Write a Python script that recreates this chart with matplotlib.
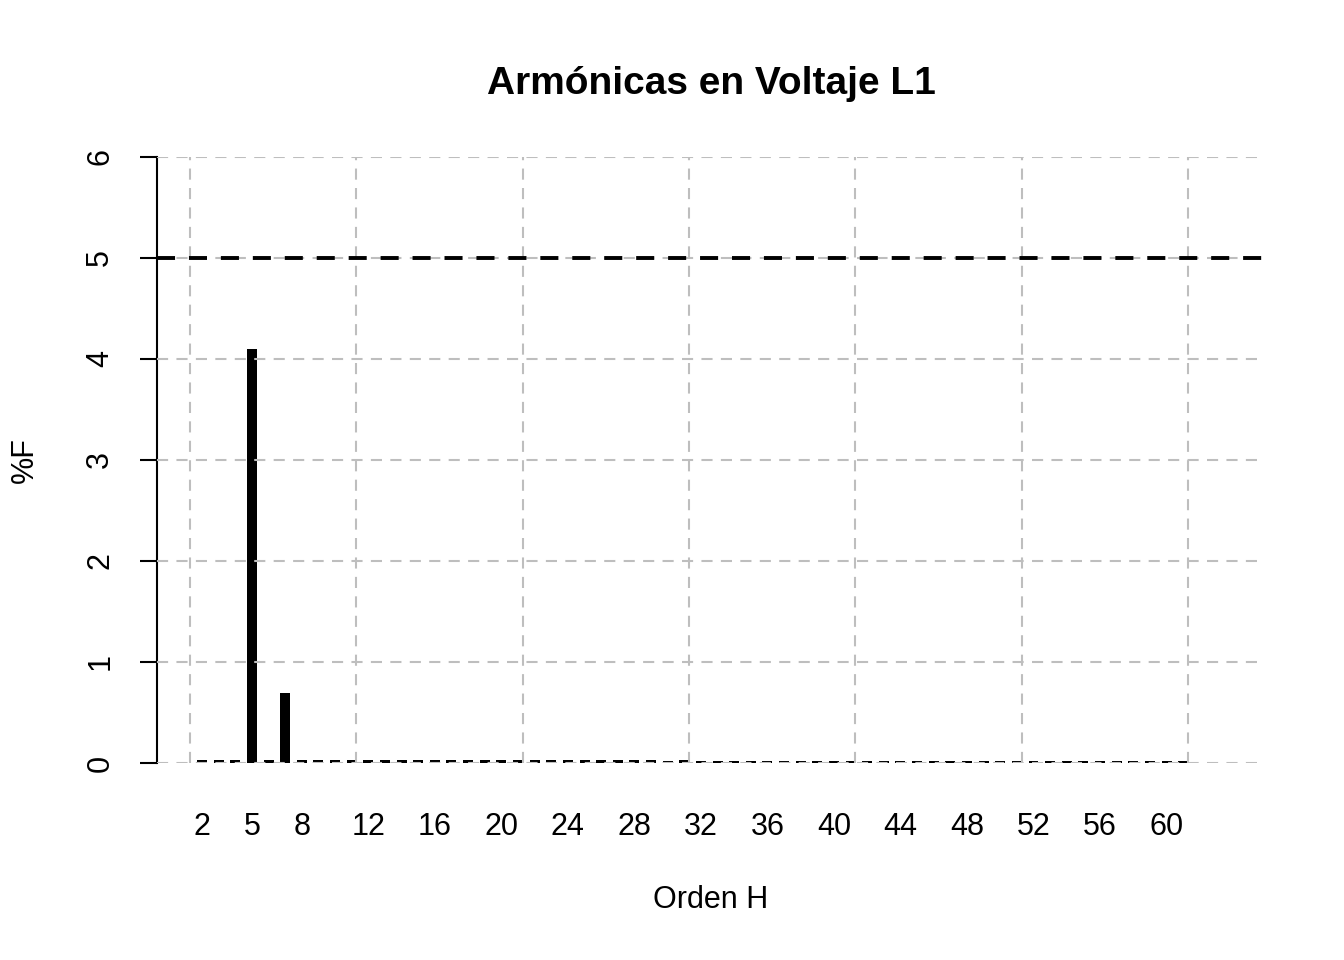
import matplotlib
matplotlib.use("Agg")
import matplotlib.pyplot as plt

plt.rcParams['font.family'] = ['Liberation Sans', 'DejaVu Sans']
plt.rcParams['lines.scale_dashes'] = False

# orden armonico y porcentaje de la fundamental
orden = list(range(2, 62))
porcentaje = [0.03, 0.03, 0.03, 4.10, 0.03, 0.69, 0.03, 0.03, 0.03, 0.03,
              0.03, 0.03, 0.03, 0.03, 0.03, 0.03, 0.03, 0.03, 0.03, 0.03,
              0.03, 0.03, 0.03, 0.03, 0.03, 0.03, 0.03, 0.03, 0.02, 0.03,
              0.02, 0.02, 0.02, 0.02, 0.02, 0.02, 0.02, 0.02, 0.02, 0.02,
              0.02, 0.02, 0.02, 0.02, 0.02, 0.02, 0.02, 0.02, 0.02, 0.02,
              0.02, 0.02, 0.02, 0.02, 0.02, 0.02, 0.02, 0.02, 0.02, 0.02]
x_ticks = [2, 5, 8, 12, 16, 20, 24, 28, 32, 36, 40, 44, 48, 52, 56, 60]
y_ticks = [0, 1, 2, 3, 4, 5, 6]
grid_x = [1.28, 11.28, 21.28, 31.28, 41.28, 51.28, 61.28]
limite = 5

fig = plt.figure(figsize=(13.44, 9.6), dpi=100)
ax = fig.add_axes([0.1168, 0.2052, 0.8244, 0.6313])

ax.bar(orden, porcentaje, width=0.6, color='black', zorder=2)

grid_style = dict(color='#bebebe', lw=1.5, dashes=(8, 6), zorder=3)
for gx in grid_x:
    ax.axvline(gx, **grid_style)
for gy in y_ticks:
    ax.axhline(gy, **grid_style)

ax.axhline(limite, color='black', lw=2.8, dashes=(13, 10), zorder=4)

ax.set_xlim(-0.71, 65.92)
ax.set_ylim(0, 6)

for side in ['top', 'right', 'bottom']:
    ax.spines[side].set_visible(False)
ax.spines['left'].set_linewidth(1.5)
ax.spines['left'].set_bounds(0, 6)

ax.set_xticks(x_ticks)
ax.set_xticklabels([str(v) for v in x_ticks], fontsize=22)
ax.tick_params(axis='x', length=0, pad=35)
ax.set_yticks(y_ticks)
ax.set_yticklabels([str(v) for v in y_ticks], fontsize=22,
                   rotation=90, va='center')
ax.tick_params(axis='y', length=12, width=1.5, pad=18)

ax.set_title('Armónicas en Voltaje L1', fontsize=28, fontweight='bold', pad=45)
fig.text(711 / 1344, 1 - 900 / 960, 'Orden H', fontsize=22,
         ha='center', va='center')
fig.text(25 / 1344, 1 - 460 / 960, '%F', fontsize=22, rotation=90,
         ha='center', va='center')

fig.savefig('out.png', dpi=100)
